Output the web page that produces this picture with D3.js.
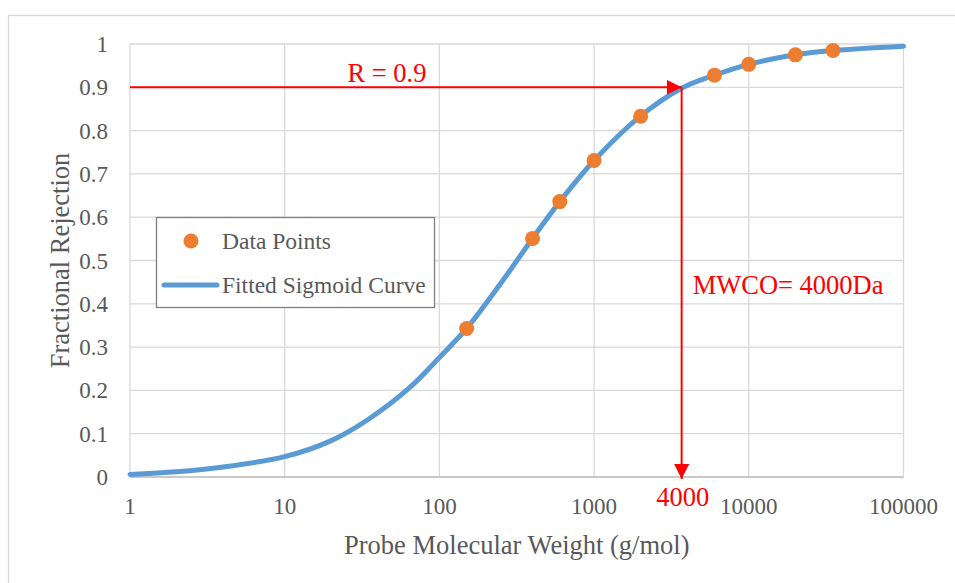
<!DOCTYPE html>
<html>
<head>
<meta charset="utf-8">
<title>Fractional Rejection vs Probe Molecular Weight</title>
<script src="https://d3js.org/d3.v7.min.js"></script>
<style>
  body { margin: 0; background: #fff; }
  svg text { font-family: "Liberation Serif", "Times New Roman", serif; }
</style>
</head>
<body>
<div id="chart"></div>
<script>
// data
var pointMW = [150, 400, 600, 1000, 2000, 6000, 10000, 20000, 35000];
var pointR  = [0.343, 0.551, 0.636, 0.731, 0.833, 0.928, 0.953, 0.975, 0.985];

var curveMW = [1, 2, 4, 10, 20, 35, 65, 100, 150, 250, 400, 600, 1000, 2000, 3680, 6000, 10000, 20000, 35000, 100000];
var curveR  = [0.006, 0.012, 0.023, 0.047, 0.084, 0.134, 0.208, 0.276, 0.343, 0.448, 0.551, 0.636, 0.731, 0.834, 0.898, 0.928, 0.953, 0.975, 0.985, 0.995];

var xTicks = [1, 10, 100, 1000, 10000, 100000];
var yTicks = [0, 0.1, 0.2, 0.3, 0.4, 0.5, 0.6, 0.7, 0.8, 0.9, 1];

// MWCO annotation (drawn where the line sits in the picture)
var cutoffR = 0.9;
var cutoffMW = 3680;
var cutoffLabel = "4000";

var width = 955, height = 583;
var margin = {top: 44, right: 51.5, bottom: 106, left: 130};

var svg = d3.select("#chart").append("svg")
    .attr("width", width)
    .attr("height", height);

// outer chart border
svg.append("rect")
    .attr("x", 8.5).attr("y", 15.5)
    .attr("width", 960).attr("height", 580)
    .attr("fill", "#fff")
    .attr("stroke", "#d9d9d9")
    .attr("stroke-width", 1.3);

var x = d3.scaleLog().domain([1, 100000]).range([margin.left, width - margin.right]);
var y = d3.scaleLinear().domain([0, 1]).range([height - margin.bottom, margin.top]);

var grid = svg.append("g");
grid.selectAll("line.h").data(yTicks).enter().append("line")
    .attr("class", "h")
    .attr("x1", x(1)).attr("x2", x(100000))
    .attr("y1", function(d){ return y(d); })
    .attr("y2", function(d){ return y(d); })
    .attr("stroke", "#d9d9d9").attr("stroke-width", 1.3);
grid.selectAll("line.v").data(xTicks).enter().append("line")
    .attr("class", "v")
    .attr("x1", function(d){ return x(d); })
    .attr("x2", function(d){ return x(d); })
    .attr("y1", y(0)).attr("y2", y(1))
    .attr("stroke", "#d9d9d9").attr("stroke-width", 1.3);

// bottom axis line
svg.append("line")
    .attr("x1", x(1)).attr("x2", x(100000))
    .attr("y1", y(0)).attr("y2", y(0))
    .attr("stroke", "#bfbfbf").attr("stroke-width", 1.5);

// tick labels
svg.append("g").selectAll("text").data(yTicks).enter().append("text")
    .attr("x", 108)
    .attr("y", function(d){ return y(d); })
    .attr("dy", "0.35em")
    .attr("text-anchor", "end")
    .attr("font-size", 23)
    .attr("fill", "#595959")
    .text(function(d){ return d3.format("")(d); });

svg.append("g").selectAll("text").data(xTicks).enter().append("text")
    .attr("x", function(d){ return x(d); })
    .attr("y", 506)
    .attr("dy", "0.35em")
    .attr("text-anchor", "middle")
    .attr("font-size", 23)
    .attr("fill", "#595959")
    .text(function(d){ return d; });

// axis titles
svg.append("text")
    .attr("x", (x(1) + x(100000)) / 2)
    .attr("y", 545)
    .attr("dy", "0.35em")
    .attr("text-anchor", "middle")
    .attr("font-size", 26.5)
    .attr("fill", "#595959")
    .text("Probe Molecular Weight (g/mol)");

svg.append("text")
    .attr("transform", "translate(60," + ((y(0) + y(1)) / 2) + ") rotate(-90)")
    .attr("dy", "0.35em")
    .attr("text-anchor", "middle")
    .attr("font-size", 26.5)
    .attr("fill", "#595959")
    .text("Fractional Rejection");

// fitted curve
var curveData = curveMW.map(function(d, i){ return [d, curveR[i]]; });
var line = d3.line()
    .x(function(d){ return x(d[0]); })
    .y(function(d){ return y(d[1]); })
    .curve(d3.curveCatmullRom.alpha(0.5));

svg.append("path")
    .datum(curveData)
    .attr("d", line)
    .attr("fill", "none")
    .attr("stroke", "#5b9bd5")
    .attr("stroke-width", 5)
    .attr("stroke-linecap", "round");

// red annotation arrows
var defs = svg.append("defs");
defs.append("marker")
    .attr("id", "arrow")
    .attr("viewBox", "0 0 10 10")
    .attr("refX", 10).attr("refY", 5)
    .attr("markerWidth", 7.5).attr("markerHeight", 7.5)
    .attr("markerUnits", "strokeWidth")
    .attr("orient", "auto")
    .append("path")
    .attr("d", "M0,0 L10,5 L0,10 Z")
    .attr("fill", "#ff0000");

svg.append("line")
    .attr("x1", x(1)).attr("x2", x(cutoffMW))
    .attr("y1", y(cutoffR)).attr("y2", y(cutoffR))
    .attr("stroke", "#ff0000").attr("stroke-width", 2)
    .attr("marker-end", "url(#arrow)");

svg.append("line")
    .attr("x1", x(cutoffMW)).attr("x2", x(cutoffMW))
    .attr("y1", y(cutoffR)).attr("y2", y(0) + 2)
    .attr("stroke", "#ff0000").attr("stroke-width", 2)
    .attr("marker-end", "url(#arrow)");

svg.append("text")
    .attr("x", 387).attr("y", y(cutoffR) - 15)
    .attr("dy", "0.35em")
    .attr("text-anchor", "middle")
    .attr("font-size", 26.5)
    .attr("fill", "#ff0000")
    .text("R = " + cutoffR);

svg.append("text")
    .attr("x", x(cutoffMW) + 11).attr("y", 285)
    .attr("dy", "0.35em")
    .attr("font-size", 26.5)
    .attr("fill", "#ff0000")
    .text("MWCO= " + cutoffLabel + "Da");

svg.append("text")
    .attr("x", x(cutoffMW) + 1).attr("y", 497)
    .attr("dy", "0.35em")
    .attr("text-anchor", "middle")
    .attr("font-size", 26.5)
    .attr("fill", "#ff0000")
    .text(cutoffLabel);

// data points
svg.append("g").selectAll("circle")
    .data(pointMW.map(function(d, i){ return [d, pointR[i]]; }))
    .enter().append("circle")
    .attr("cx", function(d){ return x(d[0]); })
    .attr("cy", function(d){ return y(d[1]); })
    .attr("r", 7.5)
    .attr("fill", "#ed7d31");

// legend
var legend = svg.append("g");
legend.append("rect")
    .attr("x", 156.5).attr("y", 217.5)
    .attr("width", 278).attr("height", 90)
    .attr("fill", "#fff")
    .attr("stroke", "#7f7f7f")
    .attr("stroke-width", 1.3);
legend.append("circle")
    .attr("cx", 191).attr("cy", 241)
    .attr("r", 7.5)
    .attr("fill", "#ed7d31");
legend.append("text")
    .attr("x", 222).attr("y", 241)
    .attr("dy", "0.35em")
    .attr("font-size", 23.5)
    .attr("fill", "#595959")
    .text("Data Points");
legend.append("line")
    .attr("x1", 164).attr("x2", 217)
    .attr("y1", 285).attr("y2", 285)
    .attr("stroke", "#5b9bd5").attr("stroke-width", 5)
    .attr("stroke-linecap", "round");
legend.append("text")
    .attr("x", 222).attr("y", 285)
    .attr("dy", "0.35em")
    .attr("font-size", 23.5)
    .attr("fill", "#595959")
    .text("Fitted Sigmoid Curve");
</script>
</body>
</html>
